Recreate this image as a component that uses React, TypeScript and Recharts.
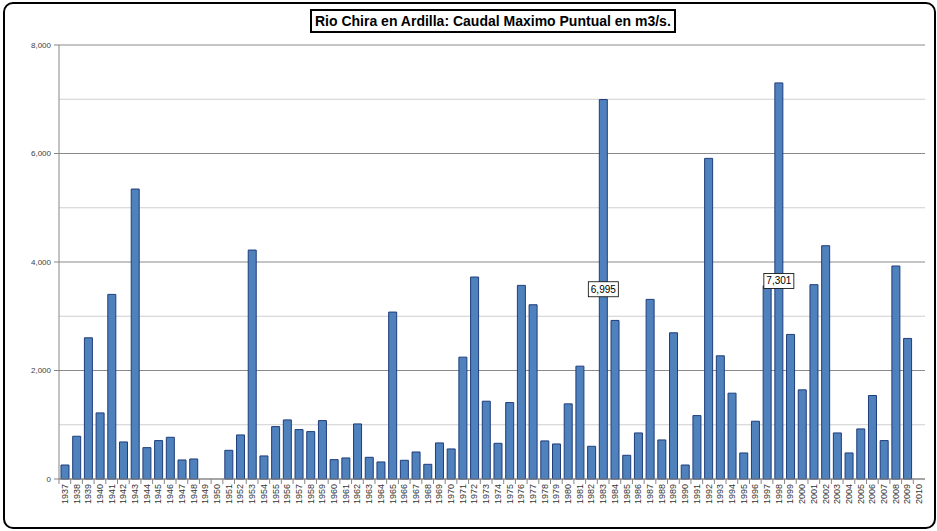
import React from "react";
import {
  BarChart,
  Bar,
  XAxis,
  YAxis,
  CartesianGrid,
  LabelList,
} from "recharts";

const years = [
  "1937", "1938", "1939", "1940", "1941", "1942", "1943", "1944", "1945", "1946",
  "1947", "1948", "1949", "1950", "1951", "1952", "1953", "1954", "1955", "1956",
  "1957", "1958", "1959", "1960", "1961", "1962", "1963", "1964", "1965", "1966",
  "1967", "1968", "1969", "1970", "1971", "1972", "1973", "1974", "1975", "1976",
  "1977", "1978", "1979", "1980", "1981", "1982", "1983", "1984", "1985", "1986",
  "1987", "1988", "1989", "1990", "1991", "1992", "1993", "1994", "1995", "1996",
  "1997", "1998", "1999", "2000", "2001", "2002", "2003", "2004", "2005", "2006",
  "2007", "2008", "2009", "2010",
];

// caudal maximo puntual (m3/s)
const caudal = [
  258, 788, 2603, 1218, 3403, 683, 5345, 578, 708, 769,
  351, 369, 0, 0, 529, 812, 4220, 425, 966, 1089,
  911, 874, 1077, 357, 388, 1015, 400, 314, 3077, 345,
  498, 271, 665, 554, 2246, 3723, 1434, 658, 1409, 3569,
  3212, 702, 646, 1385, 2080, 603, 6995, 2923, 437, 849,
  3311, 720, 2695, 258, 1169, 5910, 2271, 1582, 480, 1065,
  3560, 7301, 2665, 1643, 3582, 4300, 849, 480, 923, 1539,
  708, 3926, 2591, 0,
];

const labeledYears = ["1983", "1998"];
const majorTicks = [0, 2000, 4000, 6000, 8000];
const minorTicks = [1000, 3000, 5000, 7000];

const data = years.map((year, i) => ({ year, caudal: caudal[i] }));

const W = 937;
const H = 531;
const BAND = 866 / years.length;
const FONT = "'Liberation Sans', Arial, sans-serif";

const fmt = (v: number) => v.toLocaleString("en-US");

const YearTick = (props: any) => {
  const { x, y, payload } = props;
  return (
    <g transform={`translate(${x},${y})`}>
      <line x1={-BAND / 2} y1={0} x2={-BAND / 2} y2={5} stroke="#868686" />
      <text
        transform="rotate(-90)"
        x={-5}
        y={3}
        textAnchor="end"
        fontSize={9}
        fontFamily={FONT}
        fill="#333"
      >
        {payload.value}
      </text>
    </g>
  );
};

// LabelList reads the year, so the box only goes on the named years
const ValueLabel = (props: any) => {
  const { x, y, width, height, value } = props;
  if (!labeledYears.includes(String(value))) return null;
  const v = caudal[years.indexOf(String(value))];
  const cx = x + width / 2;
  const cy = y + height / 2;
  return (
    <g>
      <rect x={cx - 15} y={cy - 7.5} width={30} height={15} fill="#fff" stroke="#000" strokeWidth={0.8} />
      <text x={cx} y={cy + 3.5} textAnchor="middle" fontSize={10} fontFamily={FONT} fill="#000">
        {fmt(v)}
      </text>
    </g>
  );
};

export default function App() {
  return (
    <div style={{ position: "absolute", left: 0, top: 0, width: W, height: H, background: "#fff" }}>
      <div
        style={{
          position: "absolute",
          left: 3,
          top: 2,
          width: 933,
          height: 527,
          border: "2px solid #000",
          borderRadius: 10,
          boxSizing: "border-box",
        }}
      />
      <div
        style={{
          position: "absolute",
          left: 310,
          top: 9,
          border: "2px solid #000",
          padding: "1px 3px",
          fontFamily: "'Liberation Sans Narrow', 'Arial Narrow', 'Liberation Sans', sans-serif",
          fontWeight: "bold",
          fontSize: 14,
          lineHeight: "18px",
          background: "#fff",
          zIndex: 2,
        }}
      >
        Rio Chira en Ardilla: Caudal Maximo Puntual en m3/s.
      </div>
      <BarChart
        width={W}
        height={H}
        data={data}
        margin={{ top: 45, right: 12, left: 9, bottom: 12 }}
        barCategoryGap="17%"
      >
        <CartesianGrid vertical={false} horizontalValues={minorTicks} stroke="#cfcfcf" />
        <CartesianGrid vertical={false} horizontalValues={majorTicks} stroke="#8a8a8a" />
        <XAxis
          dataKey="year"
          interval={0}
          height={40}
          tickLine={false}
          tickSize={0}
          tickMargin={0}
          axisLine={{ stroke: "#868686" }}
          tick={<YearTick />}
        />
        <XAxis
          xAxisId="top"
          dataKey="year"
          orientation="top"
          height={0}
          tick={false}
          tickLine={false}
          axisLine={{ stroke: "#000", strokeWidth: 1.5 }}
        />
        <YAxis
          domain={[0, 8000]}
          ticks={majorTicks}
          width={50}
          tickSize={5}
          tickMargin={3}
          tickFormatter={fmt}
          axisLine={{ stroke: "#868686" }}
          tickLine={{ stroke: "#868686" }}
          tick={{ fontSize: 8, fill: "#404040", fontFamily: FONT }}
        />
        <YAxis
          yAxisId="right"
          orientation="right"
          width={0}
          domain={[0, 8000]}
          tick={false}
          tickLine={false}
          axisLine={{ stroke: "#000", strokeWidth: 1.5 }}
        />
        <Bar
          dataKey="caudal"
          fill="#4F81BD"
          stroke="#1F3D7A"
          strokeWidth={1}
          isAnimationActive={false}
        >
          <LabelList dataKey="year" content={<ValueLabel />} />
        </Bar>
      </BarChart>
    </div>
  );
}
